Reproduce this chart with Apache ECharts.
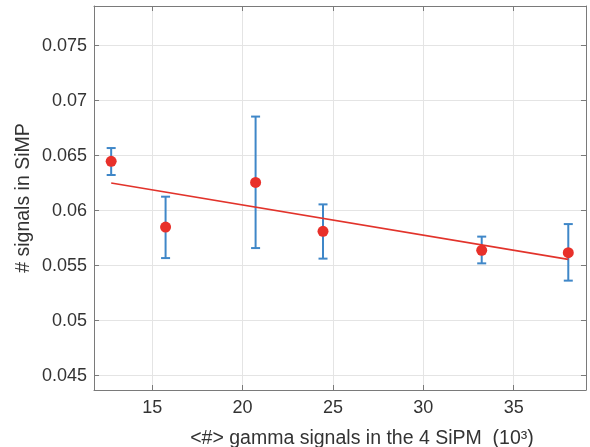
<!DOCTYPE html>
<html>
<head>
<meta charset="utf-8">
<script src="https://cdn.jsdelivr.net/npm/echarts@6/dist/echarts.min.js"></script>
<style>html,body{margin:0;padding:0;background:#fff}#c{width:590px;height:447px}</style>
</head>
<body>
<div id="c"></div>
<script>
var xValues = [12.73, 15.74, 20.72, 24.45, 33.23, 38.02];
var yValues = [0.06448, 0.05851, 0.06257, 0.05812, 0.05639, 0.05618];
var errLow  = [0.06324, 0.05569, 0.05660, 0.05564, 0.05521, 0.05364];
var errHigh = [0.06569, 0.06127, 0.06855, 0.06057, 0.05764, 0.05878];
var fitX = [12.73, 38.02];
var fitY = [0.06251, 0.05557];
var xTicks = [15, 20, 25, 30, 35];
var yTicks = [0.045, 0.05, 0.055, 0.06, 0.065, 0.07, 0.075];

var X_MIN = 11.78, X_MAX = 39.0, Y_MIN = 0.0437, Y_MAX = 0.0786;

var chart = echarts.init(document.getElementById('c'), null, {renderer: 'canvas'});
var font = 'Liberation Sans, Arial, Helvetica, sans-serif';
var labelColor = '#333333';
var axisColor = '#7a7a7a';
var gridColor = '#e4e4e4';

function baseX(extra) {
  return Object.assign({
    type: 'value', min: X_MIN, max: X_MAX,
    axisLine: {show: true, onZero: false, lineStyle: {color: axisColor, width: 1}},
    axisTick: {show: true, inside: true, length: 5, customValues: xTicks, lineStyle: {color: axisColor}},
    splitLine: {show: false},
    axisLabel: {show: false, customValues: xTicks}
  }, extra);
}
function baseY(extra) {
  return Object.assign({
    type: 'value', min: Y_MIN, max: Y_MAX,
    axisLine: {show: true, onZero: false, lineStyle: {color: axisColor, width: 1}},
    axisTick: {show: true, inside: true, length: 5, customValues: yTicks, lineStyle: {color: axisColor}},
    splitLine: {show: false},
    axisLabel: {show: false, customValues: yTicks}
  }, extra);
}

var errData = xValues.map(function (x, i) { return [x, errLow[i], errHigh[i]]; });
var ptData = xValues.map(function (x, i) { return [x, yValues[i]]; });
var fitData = fitX.map(function (x, i) { return [x, fitY[i]]; });

chart.setOption({
  animation: false,
  backgroundColor: '#ffffff',
  grid: {left: 94, top: 6, right: 4, bottom: 57, containLabel: false, outerBoundsMode: 'none'},
  xAxis: [
    baseX({
      position: 'bottom',
      splitLine: {show: true, lineStyle: {color: gridColor, width: 1}},
      axisLabel: {show: true, customValues: xTicks, margin: 9,
        color: labelColor, fontSize: 18, fontFamily: font},
      name: '<#> gamma signals in the 4 SiPM  (10\u00B3)',
      nameLocation: 'middle', nameGap: 39, nameMoveOverlap: false,
      nameTextStyle: {color: labelColor, fontSize: 19.5, fontFamily: font, padding: [0, 0, 0, 44]}
    }),
    baseX({position: 'top'})
  ],
  yAxis: [
    baseY({
      position: 'left',
      splitLine: {show: true, lineStyle: {color: gridColor, width: 1}},
      axisLabel: {show: true, customValues: yTicks, margin: 7,
        color: labelColor, fontSize: 18, fontFamily: font,
        formatter: function (v) { return String(+(+v).toFixed(4)); }},
      name: '# signals in SiMP',
      nameLocation: 'middle', nameGap: 60, nameMoveOverlap: false,
      nameTextStyle: {color: labelColor, fontSize: 19.5, fontFamily: font}
    }),
    baseY({position: 'right'})
  ],
  series: [
    {
      type: 'custom', xAxisIndex: 0, yAxisIndex: 0, z: 2,
      data: errData,
      encode: {x: 0, y: [1, 2]},
      renderItem: function (params, api) {
        var x = api.value(0);
        var lo = api.coord([x, api.value(1)]);
        var hi = api.coord([x, api.value(2)]);
        var cap = 4.5;
        var st = {stroke: '#3f87c8', lineWidth: 2, fill: null};
        return {type: 'group', children: [
          {type: 'line', shape: {x1: lo[0], y1: lo[1], x2: hi[0], y2: hi[1]}, style: st},
          {type: 'line', shape: {x1: lo[0] - cap, y1: lo[1], x2: lo[0] + cap, y2: lo[1]}, style: st},
          {type: 'line', shape: {x1: hi[0] - cap, y1: hi[1], x2: hi[0] + cap, y2: hi[1]}, style: st}
        ]};
      }
    },
    {
      type: 'line', xAxisIndex: 0, yAxisIndex: 0, z: 3,
      data: fitData, symbol: 'none',
      lineStyle: {color: '#e2332b', width: 1.6}
    },
    {
      type: 'scatter', xAxisIndex: 0, yAxisIndex: 0, z: 4,
      data: ptData, symbol: 'circle', symbolSize: 11,
      itemStyle: {color: '#e8302a', opacity: 1}
    }
  ]
});
</script>
</body>
</html>
